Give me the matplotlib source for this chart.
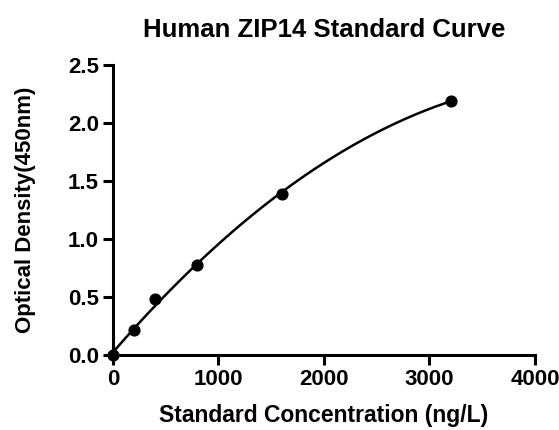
import numpy as np
import matplotlib
matplotlib.use('Agg')
import matplotlib.pyplot as plt

conc = [0, 200, 400, 800, 1600, 3200]
od = [0.0, 0.22, 0.48, 0.78, 1.39, 2.19]
x_ticks = [0, 1000, 2000, 3000, 4000]
y_ticks = [0.0, 0.5, 1.0, 1.5, 2.0, 2.5]

plt.rcParams['font.family'] = ['Liberation Sans', 'DejaVu Sans']
plt.rcParams['font.weight'] = 'bold'

fig = plt.figure(figsize=(5.59, 4.30), dpi=100)
ax = fig.add_axes([0.202, 0.174, 0.755, 0.675])

# smooth fit curve through the standards
coef = np.polyfit(conc, od, 2)
xs = np.linspace(0, max(conc), 200)
ax.plot(xs, np.polyval(coef, xs), color='black', lw=1.8, zorder=2)
ax.scatter(conc, od, s=60, color='black', zorder=3, clip_on=False)

ax.set_xlim(0, 4000)
ax.set_ylim(0, 2.5)
ax.set_xticks(x_ticks)
ax.set_yticks(y_ticks)
ax.set_yticklabels([f'{v:.1f}' for v in y_ticks])

for s in ['top', 'right']:
    ax.spines[s].set_visible(False)
for s in ['left', 'bottom']:
    ax.spines[s].set_linewidth(2.2)
ax.tick_params(width=2.2, length=7, labelsize=16, pad=3)
for lab in ax.get_xticklabels() + ax.get_yticklabels():
    lab.set_fontweight('bold')

ax.set_xlabel('Standard Concentration (ng/L)', fontsize=16.5, fontweight='bold', labelpad=10)
ax.set_ylabel('Optical Density(450nm)', fontsize=16, fontweight='bold', labelpad=23)
ax.set_title('Human ZIP14 Standard Curve', fontsize=18.5, fontweight='bold', pad=20)

fig.savefig('out.png', dpi=100)
